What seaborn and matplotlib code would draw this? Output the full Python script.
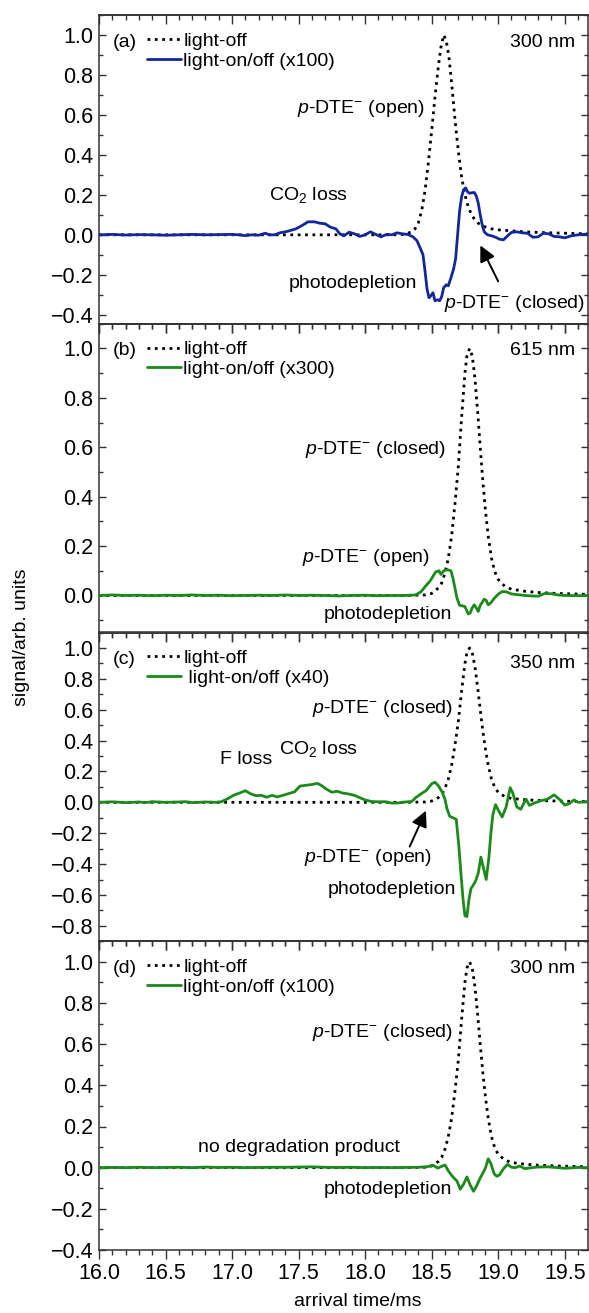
import numpy as np
import pandas as pd
import matplotlib
matplotlib.use("Agg")
import matplotlib.pyplot as plt
from matplotlib.ticker import MultipleLocator
import seaborn as sns

# ---------------- data ----------------
# panel (a) light-off (open isomer)
a_off_x = [16.0, 17.0, 18.0, 18.25, 18.30, 18.35, 18.375, 18.40, 18.425, 18.45, 18.475, 18.50, 18.525,
           18.55, 18.57, 18.59, 18.61, 18.63, 18.65, 18.675, 18.70, 18.725, 18.75, 18.775, 18.80, 18.825,
           18.85, 18.9, 18.95, 19.0, 19.1, 19.2, 19.3, 19.5, 19.7]
a_off_y = [0.0, 0.0, 0.0, 0.0, 0.003, 0.015, 0.03, 0.06, 0.12, 0.22, 0.36, 0.52, 0.69,
           0.84, 0.94, 1.0, 0.97, 0.89, 0.76, 0.58, 0.42, 0.29, 0.2, 0.14, 0.1, 0.075,
           0.058, 0.04, 0.03, 0.025, 0.02, 0.015, 0.012, 0.008, 0.005]

# panel (a) light-on/off x100
a_on_x = [16.0, 16.1, 16.2, 16.3, 16.4, 16.5, 16.6, 16.7, 16.8, 16.9, 17.0, 17.05, 17.1, 17.15, 17.2,
          17.25, 17.28, 17.32, 17.36, 17.42, 17.48, 17.53, 17.57, 17.62, 17.66, 17.70, 17.74, 17.78,
          17.81, 17.84, 17.88, 17.92, 17.96, 18.0, 18.04, 18.08, 18.12, 18.16, 18.2, 18.24, 18.28,
          18.32, 18.36, 18.39, 18.41, 18.435, 18.45, 18.465, 18.48, 18.50, 18.51, 18.525, 18.545,
          18.56, 18.575, 18.59, 18.61, 18.625, 18.645, 18.665, 18.68, 18.695, 18.71, 18.725, 18.74,
          18.755, 18.77, 18.785, 18.80, 18.82, 18.835, 18.85, 18.865, 18.88, 18.895, 18.92, 18.95,
          18.98, 19.01, 19.04, 19.07, 19.1, 19.14, 19.18, 19.22, 19.26, 19.3, 19.34, 19.38, 19.42,
          19.46, 19.5, 19.55, 19.6, 19.65, 19.7]
a_on_y = [0.0, 0.002, -0.001, 0.001, 0.0, -0.002, 0.0, 0.002, 0.0, 0.001, 0.002, 0.0, -0.004, 0.0, -0.002,
          0.008, 0.0, 0.0, 0.01, 0.018, 0.03, 0.048, 0.065, 0.065, 0.058, 0.055, 0.038, 0.03,
          0.005, -0.005, 0.013, 0.005, -0.008, 0.0, 0.015, 0.002, -0.01, 0.002, 0.0, 0.01, 0.005,
          0.002, -0.01, -0.03, -0.06, -0.1, -0.18, -0.27, -0.315, -0.30, -0.29, -0.33, -0.325,
          -0.33, -0.31, -0.265, -0.25, -0.255, -0.215, -0.17, -0.12, 0.0, 0.12, 0.19, 0.225,
          0.235, 0.215, 0.208, 0.21, 0.212, 0.195, 0.16, 0.1, 0.05, 0.015, 0.0, -0.005,
          -0.012, -0.022, -0.025, -0.005, 0.012, 0.015, 0.01, 0.008, -0.012, -0.01, 0.008, 0.005, -0.008,
          -0.01, -0.015, -0.005, 0.0, 0.003, 0.0]

# panels (b)-(d) light-off (closed isomer)
closed_off_x = [16.0, 18.3, 18.45, 18.5, 18.55, 18.575, 18.60, 18.625, 18.65, 18.675, 18.70, 18.725,
                18.75, 18.765, 18.785, 18.805, 18.825, 18.845, 18.865, 18.885, 18.905, 18.925, 18.95,
                18.975, 19.0, 19.05, 19.1, 19.2, 19.3, 19.45, 19.7]
closed_off_y = [0.0, 0.0, 0.002, 0.008, 0.03, 0.05, 0.09, 0.15, 0.24, 0.37, 0.52, 0.72,
                0.9, 0.97, 1.0, 0.97, 0.88, 0.75, 0.6, 0.46, 0.34, 0.24, 0.15,
                0.095, 0.065, 0.037, 0.025, 0.017, 0.012, 0.008, 0.004]

# panel (b) light-on/off x300
b_on_x = [16.0, 16.1, 16.2, 16.3, 16.4, 16.5, 16.6, 16.7, 16.8, 16.9, 17.0, 17.1, 17.2, 17.3, 17.4, 17.5,
          17.6, 17.7, 17.8, 17.9, 18.0, 18.1, 18.2, 18.3, 18.38, 18.42, 18.45, 18.49, 18.53, 18.555,
          18.57, 18.59, 18.62, 18.645, 18.66, 18.675, 18.69, 18.71, 18.73, 18.75, 18.775, 18.79,
          18.805, 18.82, 18.835, 18.85, 18.865, 18.88, 18.895, 18.91, 18.925, 18.945, 18.97, 19.0,
          19.03, 19.06, 19.1, 19.15, 19.2, 19.25, 19.3, 19.35, 19.4, 19.45, 19.5, 19.6, 19.7]
b_on_y = [0.0, 0.002, 0.0, 0.001, -0.001, 0.001, 0.0, 0.002, 0.0, 0.001, -0.001, 0.0, 0.001, 0.0, 0.002, 0.0,
          0.001, 0.0, -0.002, 0.0, 0.001, -0.001, 0.0, 0.0, 0.002, 0.015, 0.035, 0.06, 0.095, 0.1,
          0.085, 0.1, 0.104, 0.1, 0.07, 0.03, -0.01, -0.04, -0.042, -0.045, -0.075, -0.07,
          -0.05, -0.038, -0.05, -0.065, -0.04, -0.028, -0.015, -0.02, -0.038, -0.03, -0.012, 0.005,
          0.016, 0.015, 0.006, 0.003, 0.0, -0.002, -0.003, 0.008, 0.007, 0.002, 0.0, -0.001, 0.0]

# panel (c) light-on/off x40
c_on_x = [16.0, 16.1, 16.2, 16.3, 16.35, 16.4, 16.5, 16.6, 16.65, 16.7, 16.8, 16.88, 16.92, 16.96, 17.01,
          17.05, 17.1, 17.14, 17.18, 17.22, 17.26, 17.3, 17.34, 17.38, 17.42, 17.47, 17.51, 17.55,
          17.6, 17.64, 17.67, 17.71, 17.75, 17.79, 17.83, 17.87, 17.92, 17.96, 18.0, 18.05, 18.1,
          18.15, 18.2, 18.25, 18.3, 18.35, 18.38, 18.42, 18.46, 18.5, 18.525, 18.55, 18.58, 18.60,
          18.615, 18.635, 18.66, 18.685, 18.705, 18.72, 18.735, 18.75, 18.765, 18.78, 18.795, 18.81,
          18.83, 18.85, 18.87, 18.885, 18.91, 18.93, 18.945, 18.96, 18.98, 19.0, 19.03, 19.06, 19.09,
          19.11, 19.14, 19.17, 19.19, 19.21, 19.235, 19.27, 19.32, 19.37, 19.42, 19.46, 19.5, 19.53,
          19.57, 19.6, 19.65, 19.7]
c_on_y = [0.0, 0.003, -0.002, 0.002, -0.002, 0.004, 0.0, 0.002, 0.004, -0.002, 0.002, 0.0, 0.004, 0.02, 0.045,
          0.058, 0.075, 0.055, 0.043, 0.045, 0.033, 0.045, 0.035, 0.045, 0.055, 0.068, 0.105, 0.11,
          0.115, 0.123, 0.11, 0.085, 0.065, 0.072, 0.06, 0.055, 0.045, 0.03, 0.015, 0.005, 0.003,
          0.004, -0.005, -0.004, 0.002, 0.005, 0.03, 0.055, 0.077, 0.12, 0.13, 0.108, 0.065, 0.02,
          -0.04, -0.09, -0.1, -0.11, -0.29, -0.46, -0.62, -0.735, -0.74, -0.63, -0.56, -0.54,
          -0.51, -0.46, -0.355, -0.41, -0.5, -0.36, -0.2, -0.08, -0.015, -0.05, -0.095, -0.03, 0.095,
          0.06, -0.03, -0.045, -0.01, 0.02, -0.02, -0.005, 0.01, 0.02, 0.048, 0.02, -0.018, -0.01,
          0.015, 0.0, 0.003, 0.01]

# panel (d) light-on/off x100
d_on_x = [16.0, 16.1, 16.2, 16.3, 16.4, 16.5, 16.6, 16.7, 16.8, 16.9, 17.0, 17.1, 17.2, 17.3, 17.4, 17.5,
          17.6, 17.7, 17.8, 17.9, 18.0, 18.1, 18.2, 18.3, 18.4, 18.47, 18.51, 18.545, 18.57, 18.6, 18.63,
          18.66, 18.69, 18.715, 18.74, 18.765, 18.79, 18.815, 18.84, 18.865, 18.89, 18.905, 18.925,
          18.945, 18.97, 18.99, 19.01, 19.04, 19.07, 19.1, 19.13, 19.16, 19.2, 19.25, 19.3, 19.37,
          19.45, 19.5, 19.6, 19.7]
d_on_y = [0.0, 0.001, 0.0, 0.002, 0.0, 0.001, 0.002, 0.0, 0.003, 0.001, 0.002, 0.0, 0.001, 0.002, 0.002, 0.003,
          0.004, 0.002, 0.001, 0.002, 0.0, 0.001, 0.0, 0.001, 0.002, 0.005, 0.012, -0.002, 0.005, 0.013, -0.02,
          -0.045, -0.065, -0.105, -0.08, -0.045, -0.085, -0.115, -0.085, -0.05, -0.02, 0.0, 0.043,
          0.02, -0.03, -0.042, -0.035, -0.005, 0.016, 0.002, 0.0, 0.008, -0.005, 0.0, 0.003, 0.004,
          0.0, -0.003, 0.001, 0.0]

panel_tags = ["(a)", "(b)", "(c)", "(d)"]
wavelengths = ["300 nm", "615 nm", "350 nm", "300 nm"]
on_labels = ["light-on/off (x100)", "light-on/off (x300)", " light-on/off (x40)", "light-on/off (x100)"]
ylims = [(-0.445, 1.1), (-0.15, 1.1), (-0.9, 1.1), (-0.4, 1.1)]
xticks = [16.0, 16.5, 17.0, 17.5, 18.0, 18.5, 19.0, 19.5]

# ---------------- style ----------------
sns.set_theme(style="ticks")
plt.rcParams["font.family"] = ["Liberation Sans", "DejaVu Sans"]
plt.rcParams["mathtext.fontset"] = "custom"
plt.rcParams["mathtext.rm"] = "Liberation Sans"
plt.rcParams["mathtext.it"] = "Liberation Sans:italic"
plt.rcParams["mathtext.default"] = "regular"
plt.rcParams["text.color"] = "black"
plt.rcParams["axes.labelcolor"] = "black"
plt.rcParams["xtick.labelcolor"] = "black"
plt.rcParams["ytick.labelcolor"] = "black"

FS = 14
TFS = 15.5
BLUE = "#13279a"
GREEN = "#1a8a1a"
SPINE = "#333333"

fig = plt.figure(figsize=(5.89, 13.13), dpi=100)
L, R, T, B = 99 / 589, 588 / 589, 1 - 15 / 1313, 1 - 1250 / 1313
ph = (T - B) / 4
axes = [fig.add_axes([L, T - (i + 1) * ph, R - L, ph]) for i in range(4)]

offs = [(a_off_x, a_off_y), (closed_off_x, closed_off_y), (closed_off_x, closed_off_y), (closed_off_x, closed_off_y)]
ons = [(a_on_x, a_on_y, BLUE), (b_on_x, b_on_y, GREEN), (c_on_x, c_on_y, GREEN), (d_on_x, d_on_y, GREEN)]

for i, ax in enumerate(axes):
    ox, oy = offs[i]
    nx, ny, col = ons[i]
    df_off = pd.DataFrame({"t": ox, "s": oy})
    df_on = pd.DataFrame({"t": nx, "s": ny})
    sns.lineplot(data=df_off, x="t", y="s", ax=ax, color="black", linestyle=":", linewidth=2.0,
                 label="light-off", estimator=None, sort=False, zorder=2)
    sns.lineplot(data=df_on, x="t", y="s", ax=ax, color=col, linewidth=2.0,
                 label=on_labels[i], estimator=None, sort=False, zorder=3)
    ax.set_xlim(16.0, 19.675)
    ax.set_ylim(*ylims[i])
    ax.set_xlabel("")
    ax.set_ylabel("")
    ax.xaxis.set_major_locator(MultipleLocator(0.5))
    ax.xaxis.set_minor_locator(MultipleLocator(0.1))
    ax.yaxis.set_major_locator(MultipleLocator(0.2))
    ax.yaxis.set_minor_locator(MultipleLocator(0.1))
    ax.tick_params(axis="y", which="both", direction="in", left=True, right=True, labelright=False,
                   labelsize=TFS, color=SPINE, pad=4)
    ax.tick_params(axis="y", which="major", length=5, width=1.0)
    ax.tick_params(axis="y", which="minor", length=3, width=1.0)
    ax.tick_params(axis="x", which="both", direction="out", top=False, bottom=True,
                   labelsize=TFS, color=SPINE, pad=3)
    ax.tick_params(axis="x", which="major", length=6.5, width=1.0)
    ax.tick_params(axis="x", which="minor", length=3.6, width=1.0)
    if i < 3:
        ax.tick_params(axis="x", labelbottom=False)
    else:
        ax.set_xticks(xticks)
        ax.set_xticklabels([f"{v:.1f}" for v in xticks])
    for sp in ax.spines.values():
        sp.set_color(SPINE)
        sp.set_linewidth(1.1)
    ax.patch.set_alpha(0)
    ax.text(0.029, 0.912, panel_tags[i], transform=ax.transAxes, fontsize=FS, va="center", ha="left")
    ax.text(0.973, 0.912 if i != 2 else 0.898, wavelengths[i], transform=ax.transAxes,
            fontsize=FS, va="center", ha="right")
    leg = ax.legend(loc="upper left", bbox_to_anchor=(0.098, 0.945), frameon=False, fontsize=FS,
                    handlelength=1.75, handletextpad=0.12, labelspacing=0.12, borderpad=0,
                    borderaxespad=0)

# top mirror x ticks (inward)
for ax in axes:
    tw = ax.secondary_xaxis("top")
    tw.xaxis.set_major_locator(MultipleLocator(0.5))
    tw.xaxis.set_minor_locator(MultipleLocator(0.1))
    tw.tick_params(axis="x", which="both", direction="in", labeltop=False, color=SPINE)
    tw.tick_params(axis="x", which="major", length=6.5, width=1.0)
    tw.tick_params(axis="x", which="minor", length=3.6, width=1.0)
    tw.spines["top"].set_color(SPINE)
    tw.spines["top"].set_linewidth(1.1)

pDTE = r"$\mathit{p}$-DTE$^{-}$"
ax = axes[0]
ax.text(18.45, 0.63, pDTE + " (open)", fontsize=FS, ha="right", va="center")
ax.text(17.575, 0.197, r"CO$_2$ loss", fontsize=FS, ha="center", va="center")
ax.text(18.39, -0.242, "photodepletion", fontsize=FS, ha="right", va="center")
ax.text(18.59, -0.345, pDTE + " (closed)", fontsize=FS, ha="left", va="center")
ax.annotate("", xy=(18.866, -0.053), xytext=(19.0, -0.233),
            arrowprops=dict(arrowstyle="-|>", color="black", lw=1.4, mutation_scale=24,
                            shrinkA=0, shrinkB=0))

ax = axes[1]
ax.text(18.61, 0.589, pDTE + " (closed)", fontsize=FS, ha="right", va="center")
ax.text(18.49, 0.152, pDTE + " (open)", fontsize=FS, ha="right", va="center")
ax.text(18.65, -0.077, "photodepletion", fontsize=FS, ha="right", va="center")

ax = axes[2]
ax.text(18.66, 0.605, pDTE + " (closed)", fontsize=FS, ha="right", va="center")
ax.text(16.91, 0.28, "F loss", fontsize=FS, ha="left", va="center")
ax.text(17.35, 0.345, r"CO$_2$ loss", fontsize=FS, ha="left", va="center")
ax.text(18.5, -0.36, pDTE + " (open)", fontsize=FS, ha="right", va="center")
ax.text(18.68, -0.568, "photodepletion", fontsize=FS, ha="right", va="center")
ax.annotate("", xy=(18.457, -0.054), xytext=(18.335, -0.287),
            arrowprops=dict(arrowstyle="-|>", color="black", lw=1.4, mutation_scale=24,
                            shrinkA=0, shrinkB=0))

ax = axes[3]
ax.text(18.66, 0.655, pDTE + " (closed)", fontsize=FS, ha="right", va="center")
ax.text(17.5, 0.10, "no degradation product", fontsize=FS, ha="center", va="center")
ax.text(18.65, -0.105, "photodepletion", fontsize=FS, ha="right", va="center")
ax.set_xlabel("arrival time/ms", fontsize=FS, labelpad=4)
ax.xaxis.set_label_coords(0.53, -0.14)

fig.text(22 / 589, 1 - 637 / 1313, "signal/arb. units", rotation=90, fontsize=FS,
         ha="center", va="center")

fig.savefig("out.png", dpi=100)
